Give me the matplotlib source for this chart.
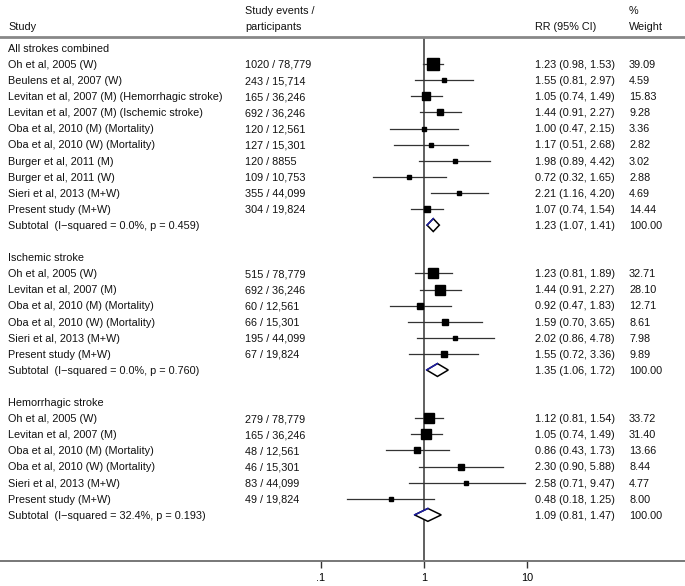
import numpy as np
import matplotlib
matplotlib.use("Agg")
import matplotlib.pyplot as plt
from matplotlib.transforms import blended_transform_factory
from matplotlib.ticker import FixedLocator, FixedFormatter

plt.rcParams["font.family"] = ["Liberation Sans", "DejaVu Sans"]

FS = 7.8
W_PX, H_PX = 685, 586

# All strokes combined
all_studies = ["Oh et al, 2005 (W)", "Beulens et al, 2007 (W)",
               "Levitan et al, 2007 (M) (Hemorrhagic stroke)",
               "Levitan et al, 2007 (M) (Ischemic stroke)",
               "Oba et al, 2010 (M) (Mortality)", "Oba et al, 2010 (W) (Mortality)",
               "Burger et al, 2011 (M)", "Burger et al, 2011 (W)",
               "Sieri et al, 2013 (M+W)", "Present study (M+W)"]
all_events = ["1020 / 78,779", "243 / 15,714", "165 / 36,246", "692 / 36,246",
              "120 / 12,561", "127 / 15,301", "120 / 8855", "109 / 10,753",
              "355 / 44,099", "304 / 19,824"]
all_rr = [1.23, 1.55, 1.05, 1.44, 1.00, 1.17, 1.98, 0.72, 2.21, 1.07]
all_lo = [0.98, 0.81, 0.74, 0.91, 0.47, 0.51, 0.89, 0.32, 1.16, 0.74]
all_hi = [1.53, 2.97, 1.49, 2.27, 2.15, 2.68, 4.42, 1.65, 4.20, 1.54]
all_wt = [39.09, 4.59, 15.83, 9.28, 3.36, 2.82, 3.02, 2.88, 4.69, 14.44]

# Ischemic stroke
isch_studies = ["Oh et al, 2005 (W)", "Levitan et al, 2007 (M)",
                "Oba et al, 2010 (M) (Mortality)", "Oba et al, 2010 (W) (Mortality)",
                "Sieri et al, 2013 (M+W)", "Present study (M+W)"]
isch_events = ["515 / 78,779", "692 / 36,246", "60 / 12,561", "66 / 15,301",
               "195 / 44,099", "67 / 19,824"]
isch_rr = [1.23, 1.44, 0.92, 1.59, 2.02, 1.55]
isch_lo = [0.81, 0.91, 0.47, 0.70, 0.86, 0.72]
isch_hi = [1.89, 2.27, 1.83, 3.65, 4.78, 3.36]
isch_wt = [32.71, 28.10, 12.71, 8.61, 7.98, 9.89]

# Hemorrhagic stroke
hem_studies = ["Oh et al, 2005 (W)", "Levitan et al, 2007 (M)",
               "Oba et al, 2010 (M) (Mortality)", "Oba et al, 2010 (W) (Mortality)",
               "Sieri et al, 2013 (M+W)", "Present study (M+W)"]
hem_events = ["279 / 78,779", "165 / 36,246", "48 / 12,561", "46 / 15,301",
              "83 / 44,099", "49 / 19,824"]
hem_rr = [1.12, 1.05, 0.86, 2.30, 2.58, 0.48]
hem_lo = [0.81, 0.74, 0.43, 0.90, 0.71, 0.18]
hem_hi = [1.54, 1.49, 1.73, 5.88, 9.47, 1.25]
hem_wt = [33.72, 31.40, 13.66, 8.44, 4.77, 8.00]

# subgroup summaries
group_names = ["All strokes combined", "Ischemic stroke", "Hemorrhagic stroke"]
sub_i2 = ["0.0%", "0.0%", "32.4%"]
sub_p = ["0.459", "0.760", "0.193"]
sub_rr = [1.23, 1.35, 1.09]
sub_lo = [1.07, 1.06, 0.81]
sub_hi = [1.41, 1.72, 1.47]

tick_vals = [0.1, 1, 10]
tick_labels = [".1", "1", "10"]

groups = [
    (all_studies, all_events, all_rr, all_lo, all_hi, all_wt),
    (isch_studies, isch_events, isch_rr, isch_lo, isch_hi, isch_wt),
    (hem_studies, hem_events, hem_rr, hem_lo, hem_hi, hem_wt),
]

# layout (pixels)
ROW0_PX, ROW_PX = 48, 16.1
X1_PX, DEC_PX = 424, 103
AXIS_PX = 561
COL_STUDY, COL_EVENTS, COL_RR, COL_WT = 8, 245, 535, 629
BASE_OFF = 0.24  # baseline shift (rows) so caps sit centred on the row


def px_row(y):
    return (y - ROW0_PX) / ROW_PX


fig = plt.figure(figsize=(W_PX / 100, H_PX / 100), dpi=100)
ax = fig.add_axes([0, (H_PX - AXIS_PX) / H_PX, 1, AXIS_PX / H_PX])
ax.set_xscale("log")
ax.set_xlim(10 ** (-X1_PX / DEC_PX), 10 ** ((W_PX - X1_PX) / DEC_PX))
ax.set_ylim(px_row(AXIS_PX), px_row(0))

for s in ["top", "left", "right"]:
    ax.spines[s].set_visible(False)
ax.spines["bottom"].set_color("#777777")
ax.spines["bottom"].set_linewidth(1.4)
ax.yaxis.set_visible(False)
ax.xaxis.set_major_locator(FixedLocator(tick_vals))
ax.xaxis.set_major_formatter(FixedFormatter(tick_labels))
ax.xaxis.set_minor_locator(FixedLocator([]))
ax.tick_params(axis="x", direction="out", length=5, width=1, color="#333333",
               labelsize=FS, pad=3.5)

tr = blended_transform_factory(ax.transAxes, ax.transData)


def put(xpx, row, s, **kw):
    ax.text(xpx / W_PX, row + BASE_OFF, s, transform=tr, fontsize=FS,
            va="baseline", color="#111111", **kw)


# header
put(COL_STUDY, px_row(26), "Study")
put(COL_EVENTS, px_row(10), "Study events /")
put(COL_EVENTS, px_row(26), "participants")
put(COL_RR, px_row(26), "RR (95% CI)")
put(COL_WT, px_row(10), "%")
put(COL_WT, px_row(26), "Weight")
header_row = px_row(37)
ax.axhline(header_row, color="#888888", lw=2)

# reference line at RR = 1
ax.plot([1, 1], [header_row + 0.15, px_row(AXIS_PX)], color="#444444", lw=1.2,
        zorder=1, clip_on=False)

row = 0
for gi, (names, events, rr, lo, hi, wt) in enumerate(groups):
    put(COL_STUDY, row, group_names[gi])
    row += 1
    for i in range(len(names)):
        put(COL_STUDY, row, names[i])
        put(COL_EVENTS, row, events[i])
        put(COL_RR, row, f"{rr[i]:.2f} ({lo[i]:.2f}, {hi[i]:.2f})")
        put(COL_WT, row, f"{wt[i]:.2f}")
        ax.plot([lo[i], hi[i]], [row, row], color="#333333", lw=0.9, zorder=2)
        ax.plot(rr[i], row, marker="s", color="black",
                markersize=max(1.27 * np.sqrt(wt[i]), 3.0), zorder=3)
        row += 1
    # subtotal diamond
    put(COL_STUDY, row, f"Subtotal  (I\u2212squared = {sub_i2[gi]}, p = {sub_p[gi]})")
    put(COL_RR, row, f"{sub_rr[gi]:.2f} ({sub_lo[gi]:.2f}, {sub_hi[gi]:.2f})")
    put(COL_WT, row, "100.00")
    h = 0.4
    dx = [sub_lo[gi], sub_rr[gi], sub_hi[gi], sub_rr[gi], sub_lo[gi]]
    dy = [row, row - h, row, row + h, row]
    ax.fill(dx, dy, facecolor="white", edgecolor="black", lw=1.1, zorder=3)
    ax.plot(dx[:2], dy[:2], color="#1f1fa8", lw=1.1, zorder=4)
    row += 2

fig.savefig("out.png", dpi=100)
